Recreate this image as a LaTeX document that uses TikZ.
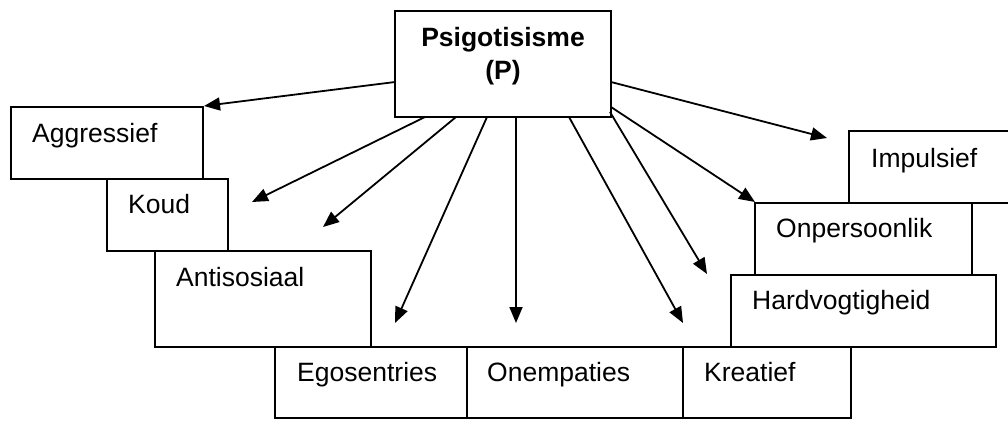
\documentclass[tikz,border=0pt]{standalone}
\usepackage{fontspec}
\setmainfont{Liberation Sans}
\usetikzlibrary{arrows.meta}
\begin{document}
\begin{tikzpicture}[x=1pt,y=-1pt,
  boxstyle/.style={draw=black,line width=1.8pt,rectangle,inner sep=0pt},
  txt/.style={anchor=base west,inner sep=0pt,font=\fontsize{26.5}{32}\selectfont},
  arr/.style={line width=1.8pt,-{Triangle[length=16pt,width=13pt]}}]
\useasboundingbox (0,0) rectangle (1008,420);
\fill[white] (0,0) rectangle (1008,420);
% boxes
\draw[boxstyle] (395,11) rectangle (611,117) node[pos=.5,inner sep=0pt] (P) {};
\draw[boxstyle] (11,107) rectangle (203,179) coordinate (aggBR);
\draw[boxstyle] (107,179) rectangle (228,251);
\draw[boxstyle] (155,251) rectangle (371,347);
\draw[boxstyle] (275,347) rectangle (467,418);
\draw[boxstyle] (467,347) rectangle (683,418);
\draw[boxstyle] (683,347) rectangle (851,418);
\draw[boxstyle] (731,275) rectangle (996,347);
\draw[boxstyle] (755,203) rectangle (972,275);
\draw[boxstyle] (849,131) rectangle (1012,203);
% texts
\node[txt] (agg) at (32,142) {Aggressief};
\node[txt] (koud) at (128,213) {Koud};
\node[txt] (anti) at (176,286) {Antisosiaal};
\node[txt] (ego) at (297,381) {Egosentries};
\node[txt] (onem) at (487,381) {Onempaties};
\node[txt] (krea) at (704,381) {Kreatief};
\node[txt] (hard) at (752,309) {Hardvogtigheid};
\node[txt] (onpe) at (776,237) {Onpersoonlik};
\node[txt] (impu) at (871,167) {Impulsief};
\node[anchor=base,inner sep=0pt,font=\fontsize{26.5}{32}\selectfont\bfseries] (psi) at (503,47) {Psigotisisme};
\node[anchor=base,inner sep=0pt,font=\fontsize{26.5}{32}\selectfont\bfseries] (psiP) at (503,79) {(P)};
% start and end coordinates
\coordinate (s1) at (395,82);  \coordinate (e1) at (204,106);
\coordinate (s2) at (425,117); \coordinate (e2) at (252,202);
\coordinate (s3) at (456,117); \coordinate (e3) at (323,227);
\coordinate (s4) at (487,117); \coordinate (e4) at (395,323);
\coordinate (s5) at (516,117); \coordinate (e5) at (516,323);
\coordinate (s6) at (569,117); \coordinate (e6) at (683,323);
\coordinate (s7) at (610,112); \coordinate (e7) at (707,274);
\coordinate (s8) at (611,107); \coordinate (e8) at (755,202);
\coordinate (s9) at (611,82);  \coordinate (e9) at (827,138);
\foreach \i in {1,...,9} {\draw[arr] (s\i) -- (e\i);}
\end{tikzpicture}
\end{document}
